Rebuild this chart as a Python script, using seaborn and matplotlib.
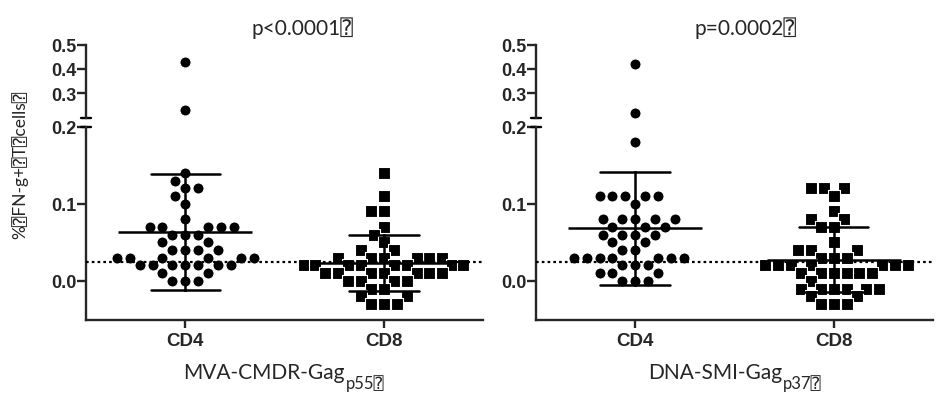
import pandas as pd
import seaborn as sns
import matplotlib
from matplotlib import pyplot as plt

matplotlib.use('Agg')

groups = ["CD4", "CD8"]

# % IFN-g+ T cells per animal
mva_cd4 = [0.43, 0.23, 0.14, 0.13, 0.12, 0.12, 0.11, 0.10, 0.08,
           0.07, 0.07, 0.07, 0.07, 0.07, 0.06, 0.06, 0.06, 0.05, 0.05,
           0.04, 0.04, 0.04, 0.04, 0.03, 0.03, 0.03, 0.03, 0.03, 0.03,
           0.02, 0.02, 0.02, 0.02, 0.02, 0.02, 0.02, 0.01, 0.01,
           0.00, 0.00, 0.00]
mva_cd8 = [0.14, 0.11, 0.09, 0.09, 0.07, 0.06, 0.05, 0.04, 0.04,
           0.03, 0.03, 0.03, 0.03, 0.03, 0.03,
           0.02, 0.02, 0.02, 0.02, 0.02, 0.02, 0.02, 0.02,
           0.01, 0.01, 0.01, 0.01, 0.01, 0.01, 0.01,
           0.00, 0.00, 0.00, 0.00, -0.01, -0.01, -0.02, -0.02,
           -0.03, -0.03, -0.03]
dna_cd4 = [0.42, 0.22, 0.18, 0.11, 0.11, 0.11, 0.11, 0.11, 0.10,
           0.08, 0.08, 0.08, 0.08, 0.08, 0.07, 0.07, 0.07,
           0.06, 0.06, 0.06, 0.06, 0.05, 0.05, 0.04, 0.04,
           0.03, 0.03, 0.03, 0.03, 0.03, 0.03, 0.03,
           0.02, 0.02, 0.02, 0.01, 0.01, 0.01, 0.00, 0.00, 0.00]
dna_cd8 = [0.12, 0.12, 0.12, 0.11, 0.09, 0.08, 0.08, 0.07, 0.07,
           0.05, 0.04, 0.04, 0.04, 0.03, 0.03, 0.03,
           0.02, 0.02, 0.02, 0.02, 0.02, 0.02, 0.02,
           0.01, 0.01, 0.01, 0.01, 0.01, 0.01, 0.00,
           -0.01, -0.01, -0.01, -0.01, -0.01, -0.01,
           -0.02, -0.02, -0.03, -0.03, -0.03]

titles = ["p<0.0001\u2370", "p=0.0002\u2370"]
vaccines = ["MVA-CMDR-Gag", "DNA-SMI-Gag"]
subscripts = ["p55\u2370", "p37\u2370"]
ylabel = "%\u2370FN-g+\u2370T\u2370cells\u2370"
cutoff = 0.025

sns.set_style("ticks")
plt.rcParams["font.family"] = ["Liberation Sans", "DejaVu Sans"]
plt.rcParams["axes.linewidth"] = 1.7
txt_family = ["Lato", "DejaVu Sans Mono", "DejaVu Sans"]

fig = plt.figure(figsize=(9.39, 4.02), dpi=100)

panels = [(0.0916, mva_cd4, mva_cd8), (0.5708, dna_cd4, dna_cd8)]
for i, (left, cd4, cd8) in enumerate(panels):
    df = pd.DataFrame({"cell": ["CD4"] * len(cd4) + ["CD8"] * len(cd8),
                       "value": cd4 + cd8})
    ax_top = fig.add_axes([left, 0.7047, 0.4228, 0.1821])
    ax_bot = fig.add_axes([left, 0.2027, 0.4228, 0.4801])

    low = df[df["value"] <= 0.2]
    high = df[df["value"] > 0.2]
    # thin white edge widens the swarm spacing a little, like the Prism layout
    for cell, mk in zip(groups, ["o", "s"]):
        sub = low[low["cell"] == cell]
        sns.swarmplot(data=sub, x="cell", y="value", order=groups, marker=mk,
                      color="black", size=8.0, linewidth=0.8, edgecolor="white",
                      ax=ax_bot)
        sub = high[high["cell"] == cell]
        if len(sub):
            sns.swarmplot(data=sub, x="cell", y="value", order=groups, marker=mk,
                          color="black", size=8.0, linewidth=0.8, edgecolor="white",
                          ax=ax_top)
    for coll in ax_bot.collections:
        coll.set_zorder(2)

    # mean +/- SD
    sns.pointplot(data=df, x="cell", y="value", order=groups, errorbar="sd",
                  capsize=0.35, color="black", markers="_", markersize=96,
                  markeredgewidth=1.8, linestyle="none",
                  err_kws={"linewidth": 1.8}, ax=ax_bot)
    for ln in ax_bot.lines:
        ln.set_zorder(4)

    ax_bot.axhline(cutoff, color="black", lw=1.6, ls=(0, (1.2, 1.4)), zorder=3)

    ax_bot.set_xlim(-0.5, 1.5)
    ax_top.set_xlim(-0.5, 1.5)
    ax_bot.set_ylim(-0.05, 0.2)
    ax_top.set_ylim(0.2, 0.5)
    ax_bot.set_yticks([0.0, 0.1, 0.2])
    ax_bot.set_yticklabels(["0.0", "0.1", "0.2"])
    ax_top.set_yticks([0.3, 0.4, 0.5])
    ax_top.set_yticklabels(["0.3", "0.4", "0.5"])
    ax_top.set_xticks([])

    for ax in (ax_bot, ax_top):
        ax.set_xlabel("")
        ax.set_ylabel("")
        ax.spines["top"].set_visible(False)
        ax.spines["right"].set_visible(False)
        ax.tick_params(axis="y", length=6.3, width=1.7, pad=0.5, labelsize=13)
        ax.tick_params(axis="x", length=6, width=1.7, pad=3, labelsize=13.5)
        for lab in ax.get_yticklabels() + ax.get_xticklabels():
            lab.set_fontweight("bold")
        ax.patch.set_alpha(0)
    ax_top.spines["bottom"].set_visible(False)

    # axis break caps
    d = 0.023
    ax_bot.plot([-0.5 - d, -0.5 + d], [0.2, 0.2], color="black", lw=1.7, clip_on=False)
    ax_top.plot([-0.5 - d, -0.5 + d], [0.2, 0.2], color="black", lw=1.7, clip_on=False)

    cx = [302, 745][i] / 939
    fig.text(cx, 1 - 28 / 402, titles[i], ha="center", va="center",
             fontsize=15, family=txt_family)
    main = fig.text([345, 782][i] / 939, 1 - 379 / 402, vaccines[i], ha="right",
                    va="baseline", fontsize=15, family=txt_family)
    ax_bot.annotate(subscripts[i], xy=(1, 0), xycoords=main, xytext=(0.5, -4),
                    textcoords="offset points", ha="left", va="baseline",
                    fontsize=12, family=txt_family, annotation_clip=False)

fig.text(20 / 939, 1 - 165 / 402, ylabel, rotation=90, ha="center", va="center",
         fontsize=12.5, family=txt_family)

fig.savefig("out.png", dpi=100)
